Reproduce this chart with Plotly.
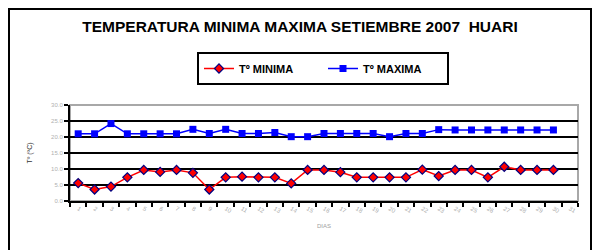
import plotly.graph_objects as go

days = [str(d) for d in range(1, 32)]
data_days = [str(d) for d in range(1, 31)]
t_min = [5.6, 3.6, 4.5, 7.4, 9.7, 9.1, 9.7, 8.8, 3.6, 7.4, 7.6, 7.4, 7.4, 5.5, 9.7,
         9.7, 9.0, 7.4, 7.4, 7.4, 7.4, 9.8, 7.8, 9.7, 9.7, 7.4, 10.7, 9.7, 9.7, 9.7]
t_max = [21.0, 21.0, 24.2, 21.0, 21.0, 21.0, 21.0, 22.4, 21.1, 22.4, 21.1, 21.1, 21.4, 20.1, 20.1,
         21.1, 21.1, 21.1, 21.1, 20.1, 21.1, 21.1, 22.3, 22.2, 22.2, 22.2, 22.2, 22.2, 22.2, 22.2]
y_ticks = [0, 5, 10, 15, 20, 25, 30]

title_text = "TEMPERATURA MINIMA MAXIMA SETIEMBRE 2007  HUARI"
FONT = "Liberation Sans, Arial, sans-serif"

fig = go.Figure()
fig.add_trace(go.Scatter(
    x=data_days, y=t_min, name="Tº MINIMA", mode="lines+markers",
    line=dict(color="#ff0000", width=1.5),
    marker=dict(symbol="diamond", size=7, color="#ff0000", line=dict(color="#000080", width=1.2)),
))
fig.add_trace(go.Scatter(
    x=data_days, y=t_max, name="Tº MAXIMA", mode="lines+markers",
    line=dict(color="#0000ff", width=1.5),
    marker=dict(symbol="square", size=7, color="#0000ff", line=dict(color="#0000ff", width=0)),
))

L, R, T, B = 70, 20, 105, 49
W, H = 598, 250
pw, ph = W - L - R, H - T - B

def px2x(p):
    return (p - L) / pw

def py2y(p):
    return (H - B - p) / ph

fig.update_layout(
    width=W, height=H,
    margin=dict(l=L, r=R, t=T, b=B, pad=0),
    paper_bgcolor="white", plot_bgcolor="white",
    font=dict(family=FONT, color="#000"),
    title=dict(text=title_text, x=300 / W, xanchor="center", xref="container",
               y=1 - 27 / H, yanchor="middle", yref="container",
               font=dict(family=FONT, size=15.5, weight="bold", color="#000")),
    showlegend=True,
    legend=dict(orientation="h", x=px2x(323), xanchor="center", y=py2y(52), yanchor="top",
                bordercolor="#000", borderwidth=2, bgcolor="white",
                font=dict(family=FONT, size=11, weight="bold", color="#000"),
                entrywidth=79, entrywidthmode="pixels", itemclick=False),
    xaxis=dict(type="category", categoryorder="array", categoryarray=days,
               range=[-0.5, 30.5], tickson="boundaries", ticks="outside", ticklen=4,
               tickwidth=1.5, tickcolor="#000", showline=True, linecolor="#000", linewidth=2,
               showgrid=False, tickfont=dict(size=6, color="#b0b0b0"),
               title=dict(text="DIAS", font=dict(size=6, color="#a0a0a0"), standoff=10)),
    yaxis=dict(range=[0, 30], tickmode="array", tickvals=y_ticks, tickformat=".1f",
               ticks="outside", ticklen=4, tickwidth=1.5, tickcolor="#000",
               showline=True, linecolor="#000", linewidth=2, zeroline=False,
               showgrid=True, gridcolor="#000", gridwidth=2,
               tickfont=dict(size=6, color="#b0b0b0"),
               title=dict(text="Tº (ºC)", font=dict(size=7, color="#333"), standoff=18)),
    shapes=[
        dict(type="rect", xref="paper", yref="paper", x0=0, x1=1, y0=0, y1=1,
             line=dict(color="#a8a8a8", width=2), layer="below"),
        dict(type="rect", xref="paper", yref="paper", x0=px2x(9), x1=px2x(591),
             y0=py2y(262), y1=py2y(9), line=dict(color="#000", width=2)),
    ],
)

fig.write_html("out.html", config={"displayModeBar": False},
               post_script="document.body.style.margin='0';document.body.style.overflow='hidden';")
